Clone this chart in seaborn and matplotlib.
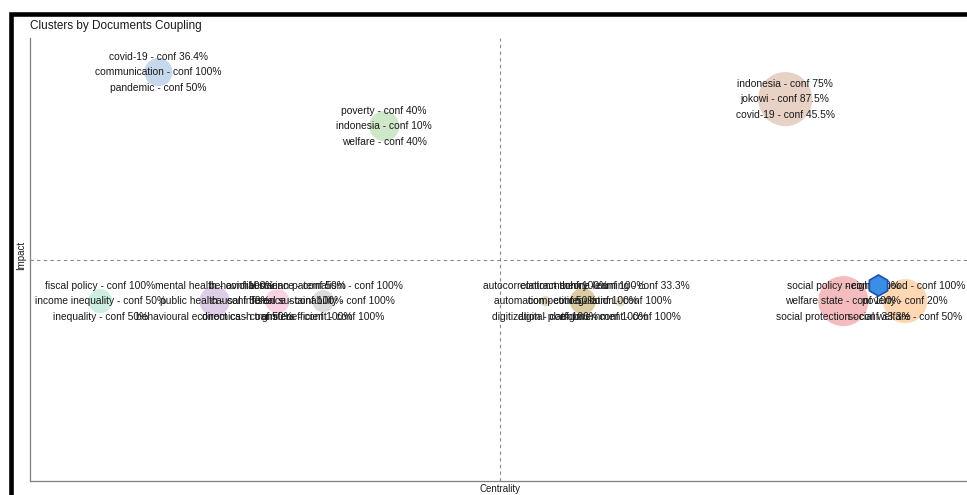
import matplotlib
matplotlib.use("Agg")
import matplotlib.pyplot as plt
from matplotlib.patches import Rectangle
import seaborn as sns
import pandas as pd

sns.set_theme(style="white")
plt.rcParams['font.family'] = ['Liberation Sans', 'DejaVu Sans']

# ---- data -------------------------------------------------------------
cluster_ids = ["c1", "c2", "c3", "c4", "c5", "c6", "c7", "c8", "c9", "c10", "c11", "c12"]
centrality = [13.7, 37.8, 80.6, 7.5, 19.7, 26.4, 31.3, 55.0, 59.0, 63.0, 86.8, 93.4]
impact = [92.3, 80.1, 86.2, 40.6, 40.6, 40.6, 40.6, 40.6, 40.6, 40.6, 40.6, 40.6]
freq = [10.9, 12.5, 40.5, 8.0, 12.5, 8.0, 6.7, 1.5, 9.4, 1.5, 34.7, 26.9]
labels = [
    ["covid-19 - conf 36.4%", "communication - conf 100%", "pandemic - conf 50%"],
    ["poverty - conf 40%", "indonesia - conf 10%", "welfare - conf 40%"],
    ["indonesia - conf 75%", "jokowi - conf 87.5%", "covid-19 - conf 45.5%"],
    ["fiscal policy - conf 100%", "income inequality - conf 50%", "inequality - conf 50%"],
    ["mental health - conf 100%", "public health - conf 50%", "behavioural economics - conf 50%"],
    ["behavioral science - conf 50%", "causal inference - conf 100%", "direct cash transfers - conf 100%"],
    ["libertarian paternalism - conf 100%", "fiscal sustainability - conf 100%", "gini coefficient - conf 100%"],
    ["autocorrelation - conf 100%", "automation - conf 50%", "digitization - conf 100%"],
    ["contract theory - conf 100%", "competition - conf 100%", "digital platforms - conf 100%"],
    ["machine learning - conf 33.3%", "regulation - conf 100%", "e-government - conf 100%"],
    ["social policy - conf 100%", "welfare state - conf 100%", "social protection - conf 33.3%"],
    ["neighborhood - conf 100%", "poverty - conf 20%", "social welfare - conf 50%"],
]
colors = ["#c6d9ec", "#cfe8c9", "#e8d2c6", "#cdeee0", "#ddcde6", "#f9d2e4",
          "#dcdcdc", "#e3dcc4", "#dbcca3", "#e6e0cc", "#f5bcbf", "#fdd8b2"]
mean_centrality = 50.2
mean_impact = 50.0
icon_xy = [90.5, 44.2]

df = pd.DataFrame({"cluster": cluster_ids, "Centrality": centrality,
                   "Impact": impact, "freq": freq})

# ---- figure -----------------------------------------------------------
W, H = 967, 495
fig = plt.figure(figsize=(W / 100, H / 100), dpi=100)
ax = fig.add_axes([30 / W, (H - 481) / H, (W - 30) / W, (481 - 38) / H])

sns.scatterplot(data=df, x="Centrality", y="Impact", hue="cluster",
                palette=colors, s=df["freq"] * 37.5, linewidth=0,
                legend=False, ax=ax, zorder=2)

ax.axvline(mean_centrality, color="#8a8a8a", lw=0.8, ls=(0, (3, 3)), zorder=1)
ax.axhline(mean_impact, color="#8a8a8a", lw=0.8, ls=(0, (3, 3)), zorder=1)

for x, y, labs in zip(centrality, impact, labels):
    for i, t in enumerate(labs):
        ax.annotate(t, (x, y), xytext=(0, (1 - i) * 11.2), textcoords="offset points",
                    ha="center", va="center", fontsize=7.4, color="#1a1a1a", zorder=3)

ax.scatter([icon_xy[0]], [icon_xy[1]], marker="h", s=230, color="#3a8ee6",
           edgecolor="#1f4fa8", linewidth=1.2, zorder=4)

ax.set_xlim(0, 100)
ax.set_ylim(0, 100)
ax.set_xticks([])
ax.set_yticks([])
ax.set_xlabel("")
ax.set_ylabel("")
for side in ["top", "right"]:
    ax.spines[side].set_visible(False)
for side in ["left", "bottom"]:
    ax.spines[side].set_color("#808080")
    ax.spines[side].set_linewidth(0.9)

fig.text(500 / W, 1 - 489 / H, "Centrality", ha="center", va="center", fontsize=7, color="#1a1a1a")
fig.text(21 / W, 1 - 255 / H, "Impact", ha="center", va="center", rotation=90, fontsize=7, color="#1a1a1a")
fig.text(30 / W, 1 - 26 / H, "Clusters by Documents Coupling", ha="left", va="center",
         fontsize=8.5, color="#1a1a1a")

fig.patches.append(Rectangle((10.5 / W, -0.2), 2.0, 1.2 - 14 / H, transform=fig.transFigure,
                             fill=False, edgecolor="black", linewidth=3.3))

fig.savefig("out.png", dpi=100)
